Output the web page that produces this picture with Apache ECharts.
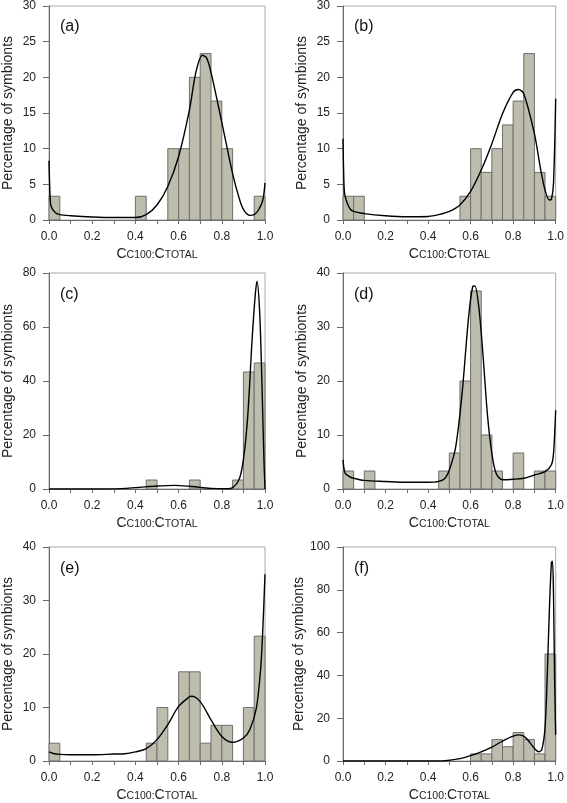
<!DOCTYPE html>
<html>
<head>
<meta charset="utf-8">
<script src="https://cdn.jsdelivr.net/npm/echarts@6/dist/echarts.min.js"></script>
<style>
html,body{margin:0;padding:0;background:#fff;}
#c{width:567px;height:803px;}
</style>
</head>
<body>
<div id="c"></div>
<script>
// Bin start edges (bin width 0.05)
const binStarts = [0.00,0.05,0.10,0.15,0.20,0.25,0.30,0.35,0.40,0.45,0.50,0.55,0.60,0.65,0.70,0.75,0.80,0.85,0.90,0.95];
const binWidth = 0.05;

// Histogram percentages per bin
const histA = [3.33,0,0,0,0,0,0,0,3.33,0,0,10,10,20,23.33,16.67,10,0,0,3.33];
const histB = [3.33,3.33,0,0,0,0,0,0,0,0,0,3.33,10,6.67,10,13.33,16.67,23.33,6.67,3.33];
const histC = [0,0,0,0,0,0,0,0,0,3.33,0,0,0,3.33,0,0,0,3.33,43.33,46.67];
const histD = [3.33,0,3.33,0,0,0,0,0,0,3.33,6.67,20,36.67,10,3.33,0,6.67,0,3.33,3.33];
const histE = [3.33,0,0,0,0,0,0,0,0,3.33,10,0,16.67,16.67,3.33,6.67,6.67,0,10,23.33];
const histF = [0,0,0,0,0,0,0,0,0,0,0,0,3.33,3.33,10,6.67,13.33,10,3.33,50];

// Fitted density curves [x, y]
const curveA = [[0,8.3],[0.005,3.3],[0.01,1.9],[0.03,1.0],[0.05,0.75],[0.1,0.6],[0.2,0.42],[0.3,0.34],[0.4,0.34],[0.45,0.75],[0.5,2.1],[0.55,4.7],[0.6,8.9],[0.65,15.4],[0.68,20.7],[0.71,23.1],[0.73,22.7],[0.75,20.7],[0.8,13.7],[0.85,6.5],[0.88,3.1],[0.9,1.5],[0.93,0.65],[0.95,0.75],[0.97,1.4],[0.99,2.8],[1.0,5.2]];
const curveB = [[0,11.4],[0.005,4.7],[0.01,3.3],[0.03,1.7],[0.05,1.2],[0.1,0.9],[0.2,0.6],[0.3,0.46],[0.4,0.5],[0.45,0.75],[0.5,1.2],[0.55,2.1],[0.6,4.0],[0.65,7.0],[0.7,10.7],[0.75,14.9],[0.8,17.9],[0.825,18.3],[0.85,17.7],[0.9,12.1],[0.93,7.0],[0.95,4.2],[0.97,2.8],[0.98,2.9],[0.99,5.2],[1.0,17.0]];
const curveC = [[0,0],[0.1,0],[0.2,0],[0.3,0.05],[0.4,0.5],[0.5,1.1],[0.58,1.35],[0.65,1.0],[0.75,0.25],[0.82,0.1],[0.85,0.5],[0.88,3.5],[0.9,10.9],[0.92,26.9],[0.94,55],[0.955,72],[0.963,77],[0.975,66],[0.985,41.7],[0.995,10.9],[1.0,0]];
const curveD = [[0,5.4],[0.01,2.9],[0.03,2.3],[0.05,2.0],[0.1,1.6],[0.2,1.4],[0.3,1.24],[0.4,1.24],[0.45,1.4],[0.48,2.0],[0.5,3.5],[0.53,7.8],[0.56,17.7],[0.59,31.6],[0.61,37.5],[0.62,37.6],[0.64,33.2],[0.66,23.9],[0.68,13.4],[0.7,6.6],[0.72,2.9],[0.75,1.7],[0.8,1.8],[0.85,2.0],[0.9,2.6],[0.95,3.2],[0.98,4.5],[0.99,6.6],[1.0,14.6]];
const curveE = [[0,1.7],[0.02,1.4],[0.05,1.23],[0.1,1.17],[0.2,1.17],[0.3,1.3],[0.35,1.35],[0.4,1.7],[0.45,2.3],[0.5,4.0],[0.55,6.8],[0.6,10.2],[0.65,12.0],[0.66,12.1],[0.7,11.1],[0.75,7.7],[0.8,4.6],[0.85,3.5],[0.9,4.3],[0.93,5.9],[0.96,9.9],[0.98,17.3],[0.99,24.7],[1.0,34.9]];
const curveF = [[0,0],[0.1,0],[0.2,0],[0.3,0],[0.4,0],[0.48,0.15],[0.55,1.1],[0.6,2.5],[0.65,4.3],[0.7,6.5],[0.75,9.3],[0.8,11.6],[0.83,12.2],[0.86,10.8],[0.9,5.9],[0.92,4.3],[0.935,5.4],[0.95,15.4],[0.96,38.6],[0.97,69.4],[0.98,92.6],[0.985,93.4],[0.99,77],[0.995,38.6],[1.0,12.3]];

const panelLabels = ['(a)','(b)','(c)','(d)','(e)','(f)'];
const yMax = [30,30,80,40,40,100];
const yStep = [5,5,20,10,10,20];
const hists = [histA,histB,histC,histD,histE,histF];
const curves = [curveA,curveB,curveC,curveD,curveE,curveF];

const gridPos = [
  {left:49, top:5, width:216, height:215},
  {left:343, top:5, width:216, height:215},
  {left:49, top:273, width:216, height:216},
  {left:343, top:273, width:216, height:216},
  {left:49, top:547, width:216, height:216},
  {left:343, top:547, width:216, height:216}
];

const font = 'Liberation Sans, Arial, sans-serif';
const axisCol = '#6a6a6a';
const grids = [], xAxes = [], yAxes = [], series = [], graphics = [];

for (let i = 0; i < 6; i++) {
  const g = gridPos[i];
  grids.push(Object.assign({show:true, borderColor:'#a8a8a8', borderWidth:1, backgroundColor:'transparent'}, g));
  xAxes.push({
    type:'value', gridIndex:i, min:0, max:1, interval:0.1,
    axisLine:{show:true, onZero:false, lineStyle:{color:axisCol, width:1}},
    axisTick:{show:true, inside:false, length:4, lineStyle:{color:axisCol}},
    splitLine:{show:false},
    axisLabel:{color:'#222', fontSize:12, fontFamily:font, margin:11,
      formatter: v => (Math.round(v*10) % 2 === 0 ? v.toFixed(1) : '')},
    name:'{b|C}{s|C100:}{b|C}{s|TOTAL}', nameLocation:'middle', nameGap:27,
    nameTextStyle:{color:'#222', fontFamily:font, rich:{
      b:{fontSize:14, fontFamily:font, color:'#222', verticalAlign:'bottom'},
      s:{fontSize:10.5, fontFamily:font, color:'#222', verticalAlign:'bottom'}
    }}
  });
  yAxes.push({
    type:'value', gridIndex:i, min:0, max:yMax[i], interval:yStep[i],
    axisLine:{show:true, lineStyle:{color:axisCol, width:1}},
    axisTick:{show:true, inside:false, length:6, lineStyle:{color:axisCol}},
    splitLine:{show:false},
    axisLabel:{color:'#222', fontSize:12, fontFamily:font, margin:13},
    name:'Percentage of symbionts', nameLocation:'middle', nameGap:34, nameRotate:90,
    nameTextStyle:{color:'#222', fontSize:14, fontFamily:font}
  });
  const data = [];
  hists[i].forEach((v, k) => { if (v > 0) data.push([binStarts[k], binStarts[k] + binWidth, v]); });
  series.push({
    type:'custom', xAxisIndex:i, yAxisIndex:i, data:data,
    encode:{x:[0,1], y:2}, silent:true, z:2,
    renderItem: function(params, api) {
      const p0 = api.coord([api.value(0), api.value(2)]);
      const p1 = api.coord([api.value(1), 0]);
      return {type:'rect', shape:{x:p0[0], y:p0[1], width:p1[0]-p0[0], height:p1[1]-p0[1]},
        style:{fill:'#bdbcad', stroke:'#6f6f6f', lineWidth:1}};
    }
  });
  series.push({
    type:'line', xAxisIndex:i, yAxisIndex:i, data:curves[i], smooth:0.3,
    showSymbol:false, symbol:'none', z:3, silent:true,
    lineStyle:{color:'#000', width:1.4}
  });
  graphics.push({type:'text', left:g.left + 11, top:g.top + 14,
    style:{text:panelLabels[i], fontSize:16, fontFamily:font, fill:'#111'}});
}

const chart = echarts.init(document.getElementById('c'), null, {renderer:'canvas'});
chart.setOption({
  animation:false,
  grid:grids, xAxis:xAxes, yAxis:yAxes, series:series, graphic:graphics
});
</script>
</body>
</html>
